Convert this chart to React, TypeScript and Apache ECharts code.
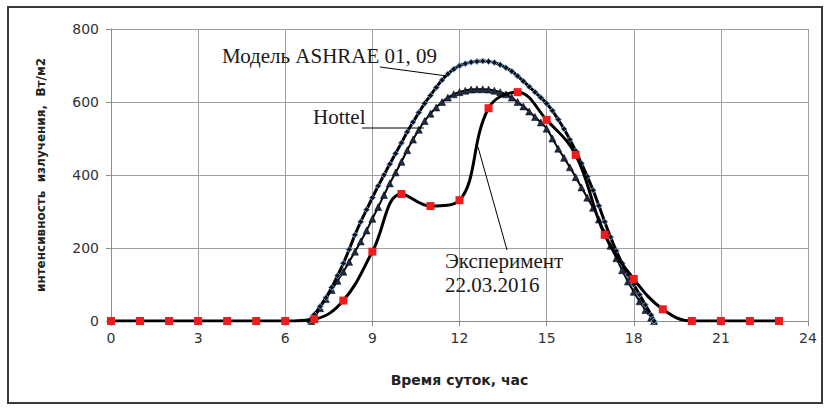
import React, { useEffect, useRef } from "react";
import * as echarts from "echarts";

// Experiment 22.03.2016, hourly
const hours = [0, 1, 2, 3, 4, 5, 6, 7, 8, 9, 10, 11, 12, 13, 14, 15, 16, 17, 18, 19, 20, 21, 22, 23];
const experiment = [0, 0, 0, 0, 0, 0, 0, 5, 56, 190, 348, 315, 331, 583, 627, 551, 455, 236, 115, 32, 0, 0, 0, 0];

// ASHRAE model
const ashraeT = [6.8, 7.0, 7.2, 7.4, 7.6, 7.8, 8.0, 8.2, 8.4, 8.6, 8.8, 9.0, 9.2, 9.4, 9.6, 9.8, 10.0, 10.2, 10.4, 10.6, 10.8, 11.0, 11.2, 11.4, 11.6, 11.8, 12.0, 12.2, 12.4, 12.6, 12.8, 13.0, 13.2, 13.4, 13.6, 13.8, 14.0, 14.2, 14.4, 14.6, 14.8, 15.0, 15.2, 15.4, 15.6, 15.8, 16.0, 16.2, 16.4, 16.6, 16.8, 17.0, 17.2, 17.4, 17.6, 17.8, 18.0, 18.2, 18.4, 18.6, 18.7];
const ashraeV = [0, 18, 40, 64, 92, 124, 158, 196, 236, 272, 305, 338, 370, 400, 430, 459, 488, 518, 545, 571, 596, 618, 640, 660, 677, 690, 699, 705, 709, 711, 712, 711, 708, 702, 694, 684, 671, 657, 642, 627, 612, 596, 576, 552, 526, 497, 466, 432, 396, 358, 316, 272, 230, 192, 158, 127, 100, 72, 44, 16, 0];

// Hottel model
const hottelT = [6.9, 7.0, 7.2, 7.4, 7.6, 7.8, 8.0, 8.2, 8.4, 8.6, 8.8, 9.0, 9.2, 9.4, 9.6, 9.8, 10.0, 10.2, 10.4, 10.6, 10.8, 11.0, 11.2, 11.4, 11.6, 11.8, 12.0, 12.2, 12.4, 12.6, 12.8, 13.0, 13.2, 13.4, 13.6, 13.8, 14.0, 14.2, 14.4, 14.6, 14.8, 15.0, 15.2, 15.4, 15.6, 15.8, 16.0, 16.2, 16.4, 16.6, 16.8, 17.0, 17.2, 17.4, 17.6, 17.8, 18.0, 18.2, 18.4, 18.6, 18.7];
const hottelV = [0, 8, 35, 60, 85, 110, 135, 162, 190, 218, 248, 280, 312, 345, 377, 407, 436, 468, 497, 524, 548, 568, 585, 600, 612, 621, 627, 631, 634, 635, 635, 634, 631, 627, 621, 612, 600, 588, 574, 559, 544, 527, 500, 472, 447, 421, 394, 366, 338, 310, 278, 242, 206, 172, 139, 108, 80, 54, 30, 9, 0];

const yTicks = [0, 200, 400, 600, 800];
const xTicks = [0, 3, 6, 9, 12, 15, 18, 21, 24];

const labelAshrae = "Модель ASHRAE 01, 09";
const labelHottel = "Hottel";
const labelExp1 = "Эксперимент";
const labelExp2 = "22.03.2016";

export default function App() {
  const ref = useRef<HTMLDivElement>(null);
  useEffect(() => {
    if (!ref.current) return;
    const chart = echarts.init(ref.current, null, { renderer: "svg" });
    const serif = "'Liberation Serif', 'Times New Roman', serif";
    const sans = "'DejaVu Sans', Verdana, sans-serif";
    chart.setOption({
      animation: false,
      backgroundColor: "#ffffff",
      grid: { left: 111, right: 21, top: 29, bottom: 93 },
      xAxis: {
        type: "value",
        min: xTicks[0],
        max: xTicks[xTicks.length - 1],
        interval: 3,
        name: "Время суток, час",
        nameLocation: "middle",
        nameGap: 52,
        nameTextStyle: { fontFamily: sans, fontWeight: "bold", fontSize: 14, color: "#222" },
        axisLine: { show: true, lineStyle: { color: "#8c8c8c", width: 1 } },
        axisTick: { show: true, length: 5, lineStyle: { color: "#8c8c8c" } },
        axisLabel: { fontFamily: sans, fontSize: 14, color: "#333", margin: 10 },
        splitLine: { show: true, lineStyle: { color: "#a0a0a0", width: 1 } },
      },
      yAxis: {
        type: "value",
        min: yTicks[0],
        max: yTicks[yTicks.length - 1],
        interval: 200,
        name: "интенсивность  излучения,  Вт/м2",
        nameLocation: "middle",
        nameGap: 64,
        nameRotate: 90,
        nameTextStyle: { fontFamily: sans, fontWeight: "bold", fontSize: 12, color: "#222" },
        axisLine: { show: true, lineStyle: { color: "#8c8c8c", width: 1 } },
        axisTick: { show: true, length: 5, lineStyle: { color: "#8c8c8c" } },
        axisLabel: { fontFamily: sans, fontSize: 14, color: "#333", margin: 12 },
        splitLine: { show: true, lineStyle: { color: "#a0a0a0", width: 1 } },
      },
      series: [
        {
          name: "Hottel",
          type: "line",
          data: hottelT.map((t, i) => [t, hottelV[i]]),
          smooth: true,
          lineStyle: { color: "#000", width: 2 },
          symbol: "triangle",
          symbolSize: 7,
          itemStyle: { color: "#1c2a45", borderColor: "#000", borderWidth: 0.5 },
          z: 2,
        },
        {
          name: "ASHRAE",
          type: "line",
          data: ashraeT.map((t, i) => [t, ashraeV[i]]),
          smooth: true,
          lineStyle: { color: "#000", width: 3 },
          symbol: "diamond",
          symbolSize: 6,
          itemStyle: { color: "#111", borderColor: "#6d9fdc", borderWidth: 1 },
          z: 3,
        },
        {
          name: "Эксперимент",
          type: "line",
          data: hours.map((h, i) => [h, experiment[i]]),
          smooth: 0.4,
          lineStyle: { color: "#000", width: 3 },
          symbol: "rect",
          symbolSize: 8,
          itemStyle: { color: "#ee1c1c" },
          z: 4,
        },
      ],
      graphic: [
        {
          type: "rect",
          shape: { x: 8, y: 7, width: 814, height: 396 },
          style: { fill: "none", stroke: "#3a3a3a", lineWidth: 2 },
          silent: true,
        },
        {
          type: "text",
          x: 222,
          y: 56,
          style: { text: labelAshrae, fontFamily: serif, fontSize: 21, fill: "#1a1a1a", textVerticalAlign: "middle" },
          z: 10,
        },
        {
          type: "line",
          shape: { x1: 380, y1: 67, x2: 447, y2: 76 },
          style: { stroke: "#000", lineWidth: 1 },
          z: 10,
        },
        {
          type: "text",
          x: 313,
          y: 117,
          style: { text: labelHottel, fontFamily: serif, fontSize: 21, fill: "#1a1a1a", textVerticalAlign: "middle" },
          z: 10,
        },
        {
          type: "line",
          shape: { x1: 362, y1: 128, x2: 424, y2: 128 },
          style: { stroke: "#000", lineWidth: 1 },
          z: 10,
        },
        {
          type: "text",
          x: 445,
          y: 261,
          style: { text: labelExp1, fontFamily: serif, fontSize: 21, fill: "#1a1a1a", textVerticalAlign: "middle" },
          z: 10,
        },
        {
          type: "text",
          x: 445,
          y: 285,
          style: { text: labelExp2, fontFamily: serif, fontSize: 21, fill: "#1a1a1a", textVerticalAlign: "middle" },
          z: 10,
        },
        {
          type: "line",
          shape: { x1: 478, y1: 147, x2: 507, y2: 250 },
          style: { stroke: "#000", lineWidth: 1 },
          z: 10,
        },
      ],
    });
    return () => chart.dispose();
  }, []);
  return (
    <div
      ref={ref}
      style={{ position: "fixed", left: 0, top: 0, width: 829, height: 414, background: "#fff" }}
    />
  );
}
